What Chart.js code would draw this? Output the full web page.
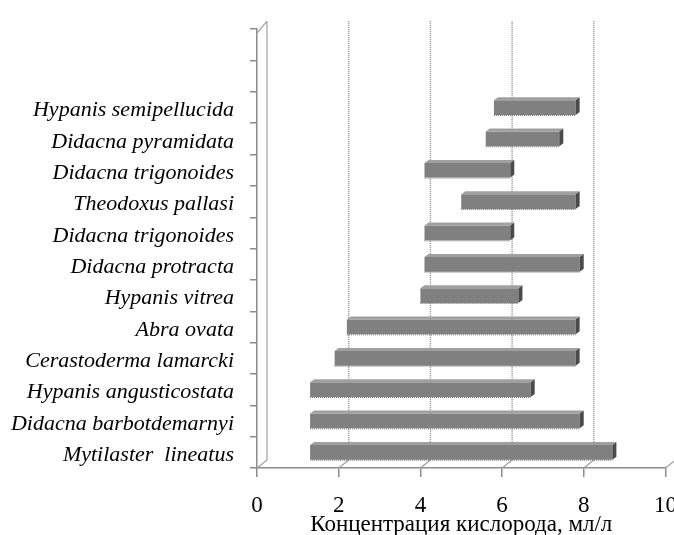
<!DOCTYPE html>
<html>
<head>
<meta charset="utf-8">
<script src="https://cdn.jsdelivr.net/npm/chart.js@4"></script>
<style>
    html, body { margin: 0; padding: 0; background: #fff; overflow: hidden; width: 674px; height: 535px; }
    /* wider than the window so the "10" label gets cut like in the original */
    #wrap { width: 692px; height: 535px; position: relative; }
</style>
</head>
<body>
<div id="wrap"><canvas id="o2_chart"></canvas></div>
<script>
// Species, bottom to top (two empty slots above, as in the original)
const species = [
    'Mytilaster  lineatus',
    'Didacna barbotdemarnyi',
    'Hypanis angusticostata',
    'Cerastoderma lamarcki',
    'Abra ovata',
    'Hypanis vitrea',
    'Didacna protracta',
    'Didacna trigonoides',
    'Theodoxus pallasi',
    'Didacna trigonoides',
    'Didacna pyramidata',
    'Hypanis semipellucida',
    '',
    ''
];
// Oxygen range, ml/l
const minO2 = [1.3, 1.3, 1.3, 1.9, 2.2, 4.0, 4.1, 4.1, 5.0, 4.1, 5.6, 5.8, null, null];
const maxO2 = [8.7, 7.9, 6.7, 7.8, 7.8, 6.4, 7.9, 6.2, 7.8, 6.2, 7.4, 7.8, null, null];
const xTicks = [0, 2, 4, 6, 8, 10];

const DX = 10, DY = 8; // fake 3D depth of the plot box
const serif = '"Liberation Serif", "Times New Roman", serif';

// back grid lines + wall, drawn before the bars
const depthBox = {
    id: 'depthBox',
    beforeDatasetsDraw(chart) {
        const { ctx, chartArea: a, scales: { x } } = chart;
        ctx.save();
        ctx.strokeStyle = '#909090';
        ctx.lineWidth = 1.5;
        ctx.setLineDash([1, 1]);
        xTicks.slice(1, -1).forEach(v => {
            const px = x.getPixelForValue(v) + DX;
            ctx.beginPath();
            ctx.moveTo(px, a.top - DY);
            ctx.lineTo(px, a.bottom - DY);
            ctx.stroke();
        });
        ctx.setLineDash([]);
        ctx.strokeStyle = '#a0a0a0';
        ctx.lineWidth = 1.2;
        ctx.beginPath();
        // back wall edge
        ctx.moveTo(a.left + DX, a.top - DY);
        ctx.lineTo(a.left + DX, a.bottom - DY);
        // wall top
        ctx.moveTo(a.left, a.top + 4);
        ctx.lineTo(a.left + DX, a.top - DY);
        // floor diagonals at each tick
        xTicks.forEach(v => {
            const px = x.getPixelForValue(v);
            ctx.moveTo(px, a.bottom);
            ctx.lineTo(px + DX, a.bottom - DY);
        });
        ctx.stroke();
        ctx.restore();
    }
};

// top + right faces of each bar
const barDepth = {
    id: 'barDepth',
    afterDatasetsDraw(chart) {
        const { ctx } = chart;
        const d = 4, h = 3;
        chart.getDatasetMeta(0).data.forEach((bar, i) => {
            if (minO2[i] == null) return;
            const x0 = Math.min(bar.base, bar.x);
            const x1 = Math.max(bar.base, bar.x);
            const top = bar.y - bar.height / 2;
            const bot = bar.y + bar.height / 2;
            ctx.save();
            ctx.fillStyle = '#a0a0a0';
            ctx.beginPath();
            ctx.moveTo(x0, top);
            ctx.lineTo(x1, top);
            ctx.lineTo(x1 + d, top - h);
            ctx.lineTo(x0 + d, top - h);
            ctx.closePath();
            ctx.fill();
            ctx.fillStyle = '#4a4a4a';
            ctx.beginPath();
            ctx.moveTo(x1, top);
            ctx.lineTo(x1 + d, top - h);
            ctx.lineTo(x1 + d, bot - h);
            ctx.lineTo(x1, bot);
            ctx.closePath();
            ctx.fill();
            // dotted lower edge, as in the original
            ctx.strokeStyle = '#6a6a6a';
            ctx.lineWidth = 1;
            ctx.setLineDash([1, 1]);
            ctx.beginPath();
            ctx.moveTo(x0, bot + 0.5);
            ctx.lineTo(x1, bot + 0.5);
            ctx.stroke();
            ctx.restore();
        });
    }
};

const ranges = species.map((s, i) => minO2[i] == null ? null : [minO2[i], maxO2[i]]);

new Chart(document.getElementById('o2_chart'), {
    type: 'bar',
    data: {
        labels: species,
        datasets: [{
            data: ranges,
            backgroundColor: '#808080',
            borderWidth: 0,
            barPercentage: 0.47,
            categoryPercentage: 1.0
        }]
    },
    options: {
        indexAxis: 'y',
        responsive: true,
        maintainAspectRatio: false,
        animation: false,
        layout: { padding: { top: 20, left: 0, right: 0, bottom: 0 } },
        plugins: {
            legend: { display: false },
            tooltip: { enabled: false }
        },
        scales: {
            x: {
                min: 0,
                max: 10,
                afterBuildTicks: scale => { scale.ticks = xTicks.map(v => ({ value: v })); },
                afterFit: scale => { scale.height = 67; },
                grid: { drawOnChartArea: false, tickLength: 9, color: '#8c8c8c', lineWidth: 1.5 },
                border: { color: '#8c8c8c', width: 1.5 },
                ticks: {
                    padding: 15,
                    maxRotation: 0,
                    color: '#000',
                    font: { family: serif, size: 23 }
                },
                title: {
                    display: true,
                    text: 'Концентрация кислорода, мл/л',
                    color: '#000',
                    padding: { top: 0, bottom: -4 },
                    font: { family: serif, size: 23 }
                }
            },
            y: {
                reverse: true,
                afterFit: scale => { scale.width = 257; },
                grid: { drawOnChartArea: false, tickLength: 7, color: '#8c8c8c', lineWidth: 1.5 },
                border: { color: '#8c8c8c', width: 1.5 },
                ticks: {
                    padding: 16,
                    labelOffset: 3,
                    color: '#000',
                    font: { family: serif, size: 22, style: 'italic' }
                }
            }
        }
    },
    plugins: [depthBox, barDepth]
});
</script>
</body>
</html>
